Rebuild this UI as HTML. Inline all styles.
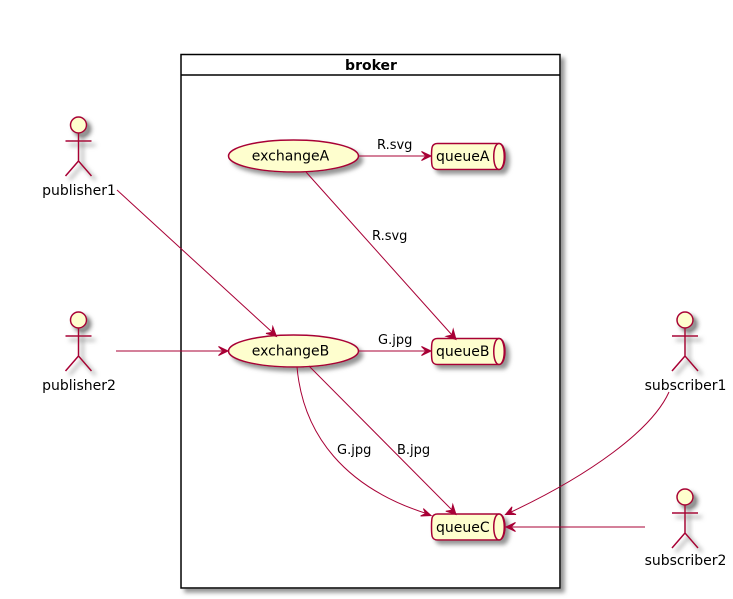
<!DOCTYPE html>
<html>
<head>
<meta charset="utf-8">
<style>
html,body{margin:0;padding:0;background:#fff;width:733px;height:599px;overflow:hidden}
svg{display:block}
text{font-family:"DejaVu Sans",sans-serif;fill:#000}
.n{font-size:14px}
.e{font-size:13px}
.l{fill:none;stroke:#A80036;stroke-width:1}
.s{fill:#FEFECE;stroke:#A80036;stroke-width:1.5}
.a{fill:none;stroke:#A80036;stroke-width:1.5}
.h{fill:#A80036;stroke:#A80036;stroke-width:1}
</style>
</head>
<body>
<svg width="733" height="599" viewBox="0 0 733 599" xmlns="http://www.w3.org/2000/svg">
<defs>
<filter id="f" x="-40%" y="-40%" width="190%" height="190%">
<feGaussianBlur in="SourceAlpha" stdDeviation="2" result="b"/>
<feOffset in="b" dx="4" dy="4" result="o"/>
<feColorMatrix in="o" type="matrix" values="0 0 0 0 0.3 0 0 0 0 0.3 0 0 0 0 0.3 0 0 0 1 0" result="c"/>
<feMerge><feMergeNode in="c"/><feMergeNode in="SourceGraphic"/></feMerge>
</filter>
<filter id="fa" x="-60%" y="-40%" width="240%" height="190%">
<feGaussianBlur in="SourceAlpha" stdDeviation="2.4" result="b"/>
<feOffset in="b" dx="4" dy="4" result="o"/>
<feColorMatrix in="o" type="matrix" values="0 0 0 0 0.3 0 0 0 0 0.3 0 0 0 0 0.3 0 0 0 1.3 0" result="c"/>
<feMerge><feMergeNode in="c"/><feMergeNode in="SourceGraphic"/></feMerge>
</filter>
<g id="actor">
<circle class="s" cx="0" cy="-16" r="8"/>
<path class="a" d="M0,-8V20M-13,0H13M0,20L-13,35M0,20L13,35"/>
</g>
</defs>

<!-- broker -->
<rect x="181" y="54.5" width="379" height="533.5" fill="#fff" stroke="#000" stroke-width="1.5" filter="url(#f)"/>
<line x1="181" y1="75" x2="560" y2="75" stroke="#000" stroke-width="1.5"/>
<text x="371" y="70" text-anchor="middle" font-weight="bold" style="font-size:14px">broker</text>

<!-- nodes -->
<g filter="url(#f)"><ellipse class="s" cx="293.5" cy="156" rx="65" ry="16"/></g>
<text class="n" x="290.5" y="160.5" text-anchor="middle">exchangeA</text>
<g filter="url(#f)"><ellipse class="s" cx="293.5" cy="351" rx="65" ry="16"/></g>
<text class="n" x="290.5" y="355.5" text-anchor="middle">exchangeB</text>

<g filter="url(#f)"><path class="s" d="M437.5,143.5H499C507,143.5 507,169.5 499,169.5H437.5C431.5,169.5 431.5,165 431.5,156.5C431.5,148 431.5,143.5 437.5,143.5Z"/><path class="s" d="M499,143.5C492,143.5 492,169.5 499,169.5C506,169.5 506,143.5 499,143.5Z"/></g>
<text class="n" x="436" y="161">queueA</text>
<g filter="url(#f)"><path class="s" d="M437.5,338.5H499C507,338.5 507,364.5 499,364.5H437.5C431.5,364.5 431.5,360 431.5,351.5C431.5,343 431.5,338.5 437.5,338.5Z"/><path class="s" d="M499,338.5C492,338.5 492,364.5 499,364.5C506,364.5 506,338.5 499,338.5Z"/></g>
<text class="n" x="436" y="356">queueB</text>
<g filter="url(#f)"><path class="s" d="M437.5,514H499C507,514 507,540 499,540H437.5C431.5,540 431.5,535.5 431.5,527C431.5,518.5 431.5,514 437.5,514Z"/><path class="s" d="M499,514C492,514 492,540 499,540C506,540 506,514 499,514Z"/></g>
<text class="n" x="436" y="532">queueC</text>

<!-- actors -->
<g filter="url(#fa)"><use href="#actor" transform="translate(78.5,141)"/></g>
<text class="n" x="79" y="195" text-anchor="middle">publisher1</text>
<g filter="url(#fa)"><use href="#actor" transform="translate(78.5,336)"/></g>
<text class="n" x="79" y="390" text-anchor="middle">publisher2</text>
<g filter="url(#fa)"><use href="#actor" transform="translate(685,336)"/></g>
<text class="n" x="685.5" y="390" text-anchor="middle">subscriber1</text>
<g filter="url(#fa)"><use href="#actor" transform="translate(685,513)"/></g>
<text class="n" x="685.5" y="565" text-anchor="middle">subscriber2</text>

<!-- edges -->
<path class="l" d="M117,190L272,332"/>
<path class="h" d="M276.5,336.5L272.8,326.6L271.8,332.4L266,333.4Z"/>

<path class="l" d="M116,351H222"/>
<path class="h" d="M228,351L218.5,346.5L223,351L218.5,355.5Z"/>

<path class="l" d="M358.5,156H425"/>
<path class="h" d="M431,156L421.5,151.5L426,156L421.5,160.5Z"/>
<text class="e" x="377" y="149">R.svg</text>

<path class="l" d="M306,172L452,335"/>
<path class="h" d="M456,339.5L453.2,329.3L451.8,335L446.2,336.3Z"/>
<text class="e" x="372" y="240">R.svg</text>

<path class="l" d="M358.5,351H425"/>
<path class="h" d="M431,351L421.5,346.5L426,351L421.5,355.5Z"/>
<text class="e" x="378" y="344">G.jpg</text>

<path class="l" d="M297,367C303,435 345,488 428,514"/>
<path class="h" d="M431,515.5L423.4,508.6L425.6,513.6L420.6,516Z"/>
<text class="e" x="337" y="454">G.jpg</text>

<path class="l" d="M309,366L452,510"/>
<path class="h" d="M456,514.5L452.8,504.6L451.6,510.2L445.8,511.2Z"/>
<text class="e" x="397" y="454">B.jpg</text>

<path class="l" d="M669,392C652,430 590,475 509,513"/>
<path class="h" d="M505.5,514.5L516,514.5L510.7,512.3L512,506.8Z"/>

<path class="l" d="M645,527H512"/>
<path class="h" d="M506,527L515.5,522.5L511,527L515.5,531.5Z"/>
</svg>
</body>
</html>
